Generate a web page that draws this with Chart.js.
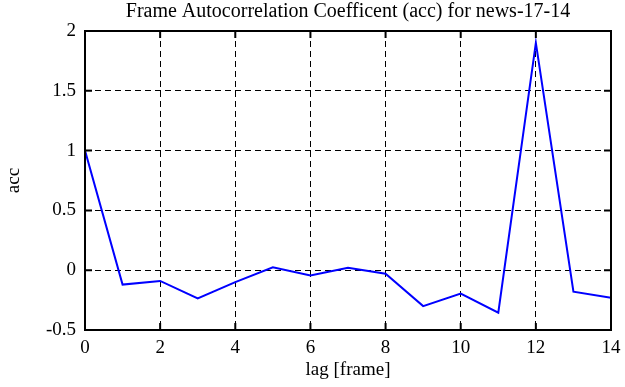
<!DOCTYPE html>
<html><head><meta charset="utf-8">
<script src="https://cdn.jsdelivr.net/npm/chart.js@4/dist/chart.umd.min.js"></script>
<style>html,body{margin:0;padding:0;background:#fff}#wrap{width:625px;height:387px}</style>
</head><body><div id="wrap"><canvas id="c" width="625" height="387"></canvas></div>
<script>
const lags = [0,1,2,3,4,5,6,7,8,9,10,11,12,13,14];
const acc = [1.0,-0.12,-0.09,-0.235,-0.1,0.025,-0.045,0.02,-0.03,-0.3,-0.195,-0.355,1.9,-0.18,-0.23];
const xTicks = [0,2,4,6,8,10,12,14];
const yTicks = [-0.5,0,0.5,1,1.5,2];
const titleText = 'Frame Autocorrelation Coefficent (acc) for news-17-14';
const xLabel = 'lag [frame]';
const yLabel = 'acc';

const serif = "'Liberation Serif','Times New Roman',serif";

const framePlugin = {
  id: 'frame',
  afterDatasetsDraw(chart) {
    const {ctx, chartArea: a, scales: {x, y}} = chart;
    ctx.save();
    ctx.strokeStyle = '#000';
    ctx.lineWidth = 2;
    ctx.setLineDash([]);
    ctx.strokeRect(a.left, a.top, a.right - a.left, a.bottom - a.top);
    const t = 7;
    ctx.beginPath();
    xTicks.forEach(v => {
      const px = x.getPixelForValue(v);
      ctx.moveTo(px, a.bottom); ctx.lineTo(px, a.bottom - t);
      ctx.moveTo(px, a.top); ctx.lineTo(px, a.top + t);
    });
    yTicks.forEach(v => {
      const py = y.getPixelForValue(v);
      ctx.moveTo(a.left, py); ctx.lineTo(a.left + t, py);
      ctx.moveTo(a.right, py); ctx.lineTo(a.right - t, py);
    });
    ctx.stroke();
    ctx.restore();
  }
};

new Chart(document.getElementById('c'), {
  type: 'line',
  data: {
    datasets: [{
      data: lags.map((l, i) => ({x: l, y: acc[i]})),
      borderColor: '#0000ff',
      borderWidth: 2,
      pointRadius: 0,
      tension: 0,
      fill: false
    }]
  },
  options: {
    responsive: false,
    animation: false,
    layout: {padding: {left: 0, right: 14, top: 0, bottom: 0}},
    plugins: {
      legend: {display: false},
      tooltip: {enabled: false},
      title: {
        display: true,
        text: titleText,
        color: '#000',
        fullSize: false,
        font: {family: serif, size: 20, weight: 'normal'},
        padding: {top: 0, bottom: 7}
      }
    },
    scales: {
      x: {
        type: 'linear',
        min: 0, max: 14,
        afterBuildTicks(s) { s.ticks = xTicks.map(v => ({value: v})); },
        afterFit(s) { s.height = 57; s.paddingLeft = 0; s.paddingRight = 0; },
        ticks: {color: '#000', font: {family: serif, size: 19}, padding: 7, maxRotation: 0,
          callback: v => String(v)},
        grid: {color: '#000', lineWidth: 1, drawTicks: false, tickLength: 0},
        border: {display: false, dash: [6, 4]},
        title: {display: true, text: xLabel, color: '#000', font: {family: serif, size: 19}, padding: {top: 0, bottom: 6}}
      },
      y: {
        type: 'linear',
        min: -0.5, max: 2,
        afterBuildTicks(s) { s.ticks = yTicks.map(v => ({value: v})); },
        afterFit(s) { s.width = 85; s.paddingTop = 0; s.paddingBottom = 0; },
        ticks: {color: '#000', font: {family: serif, size: 19}, padding: 9,
          callback: v => String(v)},
        grid: {color: '#000', lineWidth: 1, drawTicks: false, tickLength: 0},
        border: {display: false, dash: [6, 4]},
        title: {display: true, text: yLabel, color: '#000', font: {family: serif, size: 19}, padding: {top: 3, bottom: 0}}
      }
    }
  },
  plugins: [framePlugin]
});
</script>
</body></html>
